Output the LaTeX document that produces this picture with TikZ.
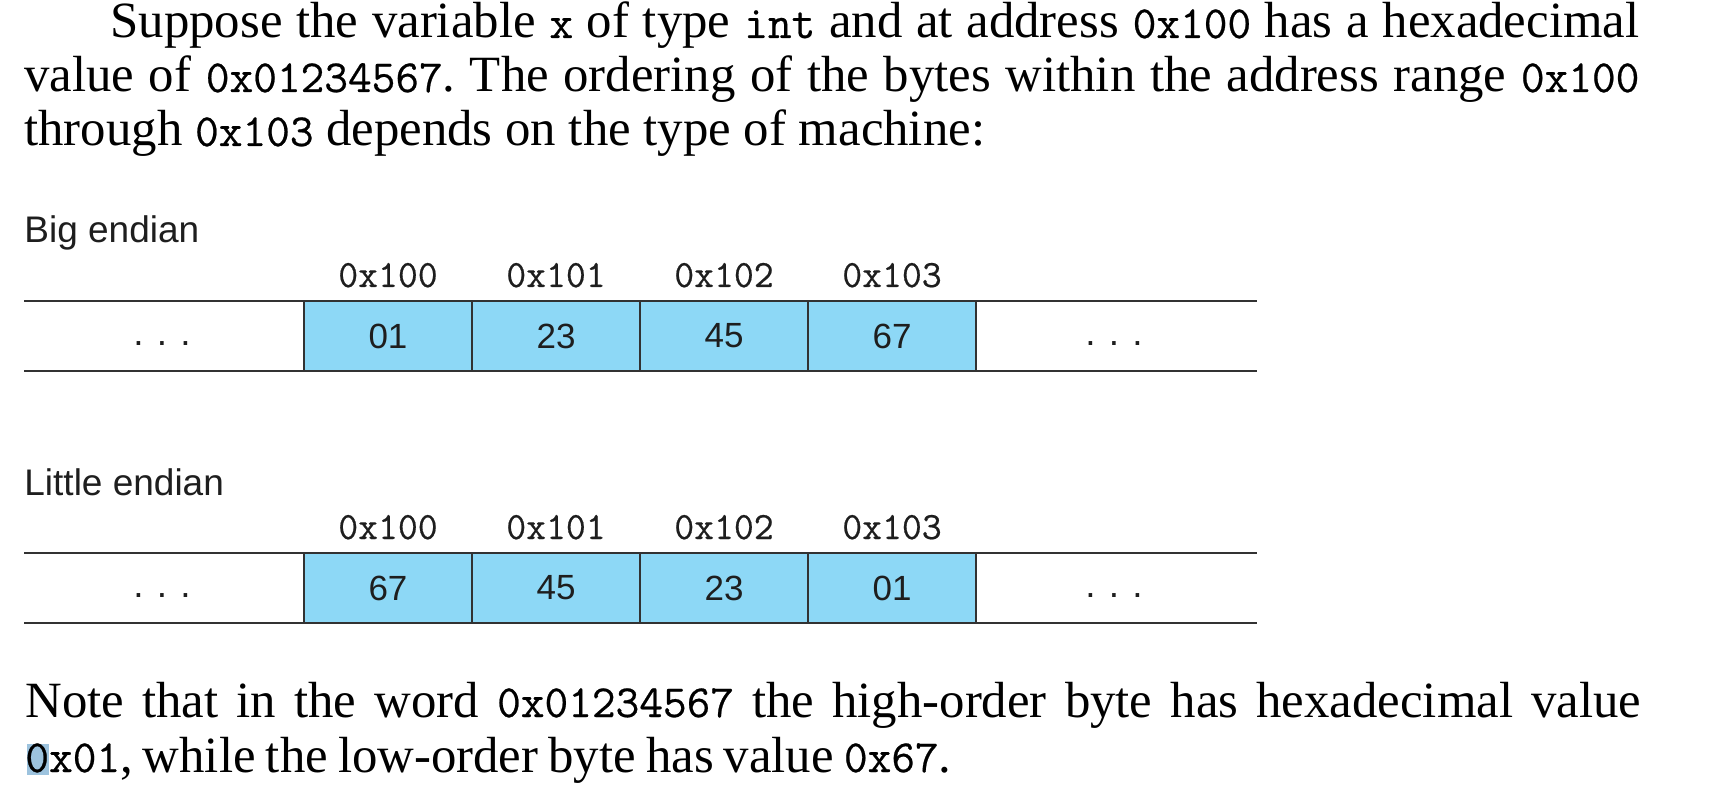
\documentclass[tikz,border=0pt]{standalone}
\usepackage{fontspec}
\setmainfont{Liberation Serif}
\setsansfont{Liberation Sans}
\setmonofont[FakeBold=0.5]{Latin Modern Mono}
\definecolor{cellblue}{RGB}{141,216,246}
\definecolor{rule}{RGB}{50,50,50}
\definecolor{hlblue}{RGB}{157,195,222}
\definecolor{ink}{RGB}{30,30,30}
\newcommand\mytt[1]{{\fontsize{23pt}{26pt}\ttfamily #1}}
\tikzset{
  para/.style={anchor=base west, inner sep=0pt, font=\fontsize{25.4pt}{28pt}\selectfont\frenchspacing, text=black},
  lab/.style={anchor=base west, inner sep=0pt, font=\sffamily\fontsize{18.5pt}{22pt}\selectfont, text=ink},
  addr/.style={anchor=base, inner sep=0pt, font=\ttfamily\fontsize{19.3pt}{22pt}\selectfont, text=ink},
  cell/.style={draw=rule, line width=1pt, fill=cellblue, minimum width=84pt, minimum height=35pt, inner sep=0pt, font=\sffamily\fontsize{17.5pt}{20pt}\selectfont, text=ink},
  dots/.style={anchor=base, inner sep=0pt, font=\sffamily\fontsize{18.5pt}{22pt}\selectfont, text=ink},
  hline/.style={draw=rule, line width=1pt}
}
\newcommand\mydots{.\hspace{6.6pt}.\hspace{6.6pt}.}
\begin{document}
\begin{tikzpicture}[x=0.5pt,y=-0.5pt]
\useasboundingbox[fill=white] (0,0) rectangle (1730,786);
% top paragraph
\node[para] (p1) at (110,38) {\makebox[764.5pt][s]{Suppose the variable \mytt{x} of type \mytt{int} and at address \mytt{0x100} has a hexadecimal}};
\node[para] (p2) at (24,92) {\makebox[807.5pt][s]{value of \mytt{0x01234567}. The ordering of the bytes within the address range \mytt{0x100}}};
\node[para] (p3) at (24,146) {through \mytt{0x103} depends on the type of machine:};
% big endian
\node[lab] (big) at (24,243) {Big endian};
\coordinate (b1l) at (24,301); \coordinate (b1r) at (1257,301);
\coordinate (b2l) at (24,371); \coordinate (b2r) at (1257,371);
\draw[hline] (b1l) -- (b1r);
\draw[hline] (b2l) -- (b2r);
\node[cell] (bc1) at (388,336) {01};
\node[cell] (bc2) at (556,336) {23};
\node[cell] (bc3) at (724,336) {45};
\node[cell] (bc4) at (892,336) {67};
\node[addr] (ba1) at (388,287) {0x100};
\node[addr] (ba2) at (556,287) {0x101};
\node[addr] (ba3) at (724,287) {0x102};
\node[addr] (ba4) at (892,287) {0x103};
\node[dots] (bd1) at (162,345) {\mydots};
\node[dots] (bd2) at (1114,345) {\mydots};
% little endian
\node[lab] (little) at (24,495) {Little endian};
\coordinate (l1l) at (24,553); \coordinate (l1r) at (1257,553);
\coordinate (l2l) at (24,623); \coordinate (l2r) at (1257,623);
\draw[hline] (l1l) -- (l1r);
\draw[hline] (l2l) -- (l2r);
\node[cell] (lc1) at (388,588) {67};
\node[cell] (lc2) at (556,588) {45};
\node[cell] (lc3) at (724,588) {23};
\node[cell] (lc4) at (892,588) {01};
\node[addr] (la1) at (388,539) {0x100};
\node[addr] (la2) at (556,539) {0x101};
\node[addr] (la3) at (724,539) {0x102};
\node[addr] (la4) at (892,539) {0x103};
\node[dots] (ld1) at (162,597) {\mydots};
\node[dots] (ld2) at (1114,597) {\mydots};
% bottom paragraph
\fill[hlblue] (27,744) rectangle (49,775);
\node[para] (q1) at (25,717) {\makebox[808pt][s]{Note that in the word \mytt{0x01234567} the high-order byte has hexadecimal value}};
\node[para] (q2) at (25,772) {\makebox[463pt][s]{\mytt{0x01}, while the low-order byte has value \mytt{0x67}.}};
\end{tikzpicture}
\end{document}
